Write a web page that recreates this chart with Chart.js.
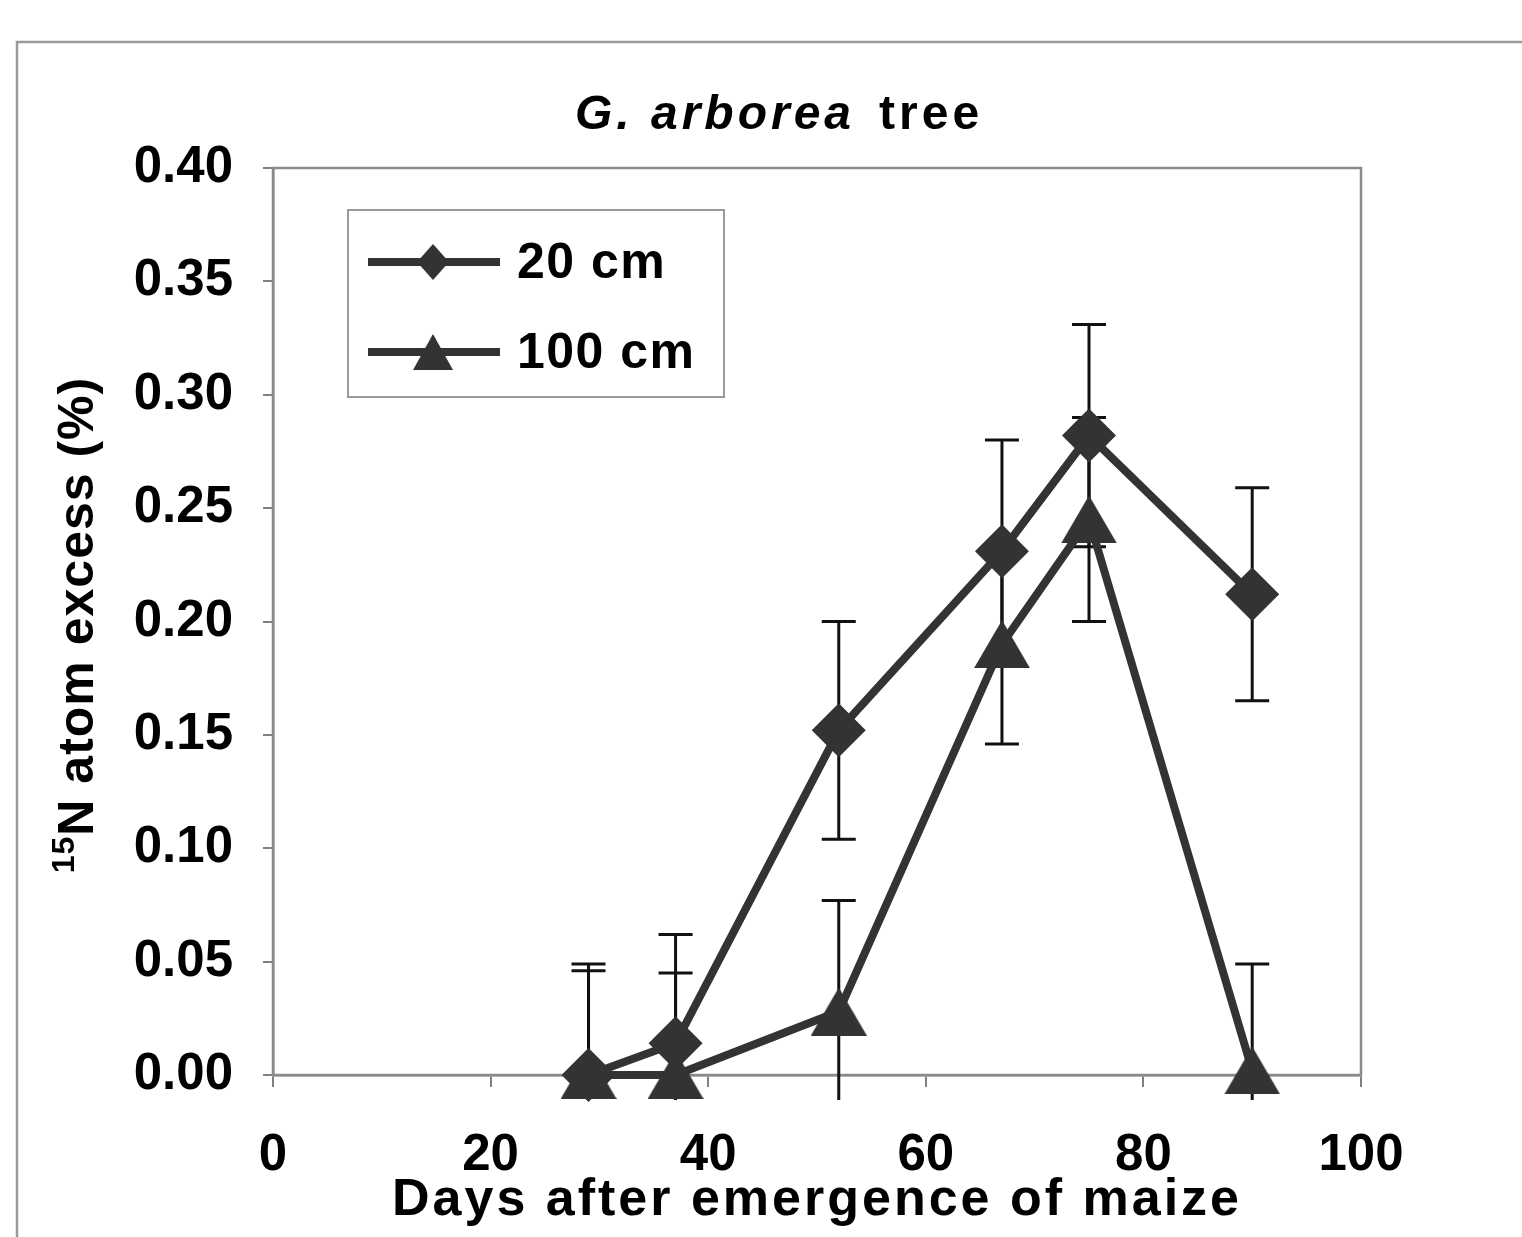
<!DOCTYPE html>
<html><head><meta charset="utf-8">
<script src="https://cdn.jsdelivr.net/npm/chart.js@4.4.1/dist/chart.umd.min.js"></script>
<style>html,body{margin:0;padding:0;background:#fff;overflow:hidden}#wrap{width:1522px;height:1237px;position:relative}</style>
</head><body><div id="wrap"><canvas id="c" width="1522" height="1237"></canvas></div>
<script>
// ---- data ----
const days = [29, 37, 52, 67, 75, 90];
const depth20 = [0, 0.014, 0.152, 0.231, 0.282, 0.212];
const err20 = [0.049, 0.048, 0.048, 0.049, 0.049, 0.047];
const depth100 = [0, 0, 0.028, 0.19, 0.245, 0.002];
const err100 = [0.046, 0.045, 0.049, 0.044, 0.045, 0.047];
const seriesLabels = ['20 cm', '100 cm'];
const xTicks = [0, 20, 40, 60, 80, 100];
const yTicks = [0, 0.05, 0.10, 0.15, 0.20, 0.25, 0.30, 0.35, 0.40];
const titleItalic = 'G. arborea';
const titlePlain = 'tree';
const xTitle = 'Days after emergence of maize';
const yTitleSup = '15';
const yTitleMain = 'N atom excess (%)';
const errFloor = -0.011;

const FONT = "'Liberation Sans', Arial, sans-serif";
const INK = '#333333';

function triCanvas(w, h) {
  const c = document.createElement('canvas');
  c.width = w; c.height = h;
  const g = c.getContext('2d');
  g.fillStyle = INK;
  g.beginPath(); g.moveTo(w / 2, 0); g.lineTo(w, h); g.lineTo(0, h); g.closePath(); g.fill();
  return c;
}
const triBig = triCanvas(56, 48);
const triSmall = triCanvas(40, 36);

const errors = [err20, err100];

const decor = {
  id: 'decor',
  beforeDraw(chart) {
    const ctx = chart.ctx;
    ctx.save();
    ctx.fillStyle = '#fff';
    ctx.fillRect(0, 0, chart.width, chart.height);
    ctx.strokeStyle = '#9a9a9a';
    ctx.lineWidth = 2.5;
    ctx.strokeRect(17, 42, chart.width + 20, chart.height + 20);
    ctx.restore();
  },
  beforeDatasetsDraw(chart) {
    const ctx = chart.ctx, a = chart.chartArea;
    const xs = chart.scales.x, ys = chart.scales.y;
    ctx.save();
    ctx.strokeStyle = '#8a8a8a';
    ctx.lineWidth = 2.5;
    ctx.strokeRect(a.left, a.top, a.right - a.left, a.bottom - a.top);
    // error bars
    ctx.strokeStyle = '#111';
    ctx.lineWidth = 3;
    chart.data.datasets.forEach((ds, di) => {
      const err = errors[di];
      ds.data.forEach((p, i) => {
        const x = xs.getPixelForValue(p.x);
        const yT = ys.getPixelForValue(p.y + err[i]);
        const yB = ys.getPixelForValue(Math.max(p.y - err[i], errFloor));
        ctx.beginPath();
        ctx.moveTo(x, yT); ctx.lineTo(x, yB);
        ctx.moveTo(x - 17, yT); ctx.lineTo(x + 17, yT);
        if (p.y - err[i] >= errFloor) { ctx.moveTo(x - 17, yB); ctx.lineTo(x + 17, yB); }
        ctx.stroke();
      });
    });
    ctx.restore();
  },
  afterDraw(chart) {
    const ctx = chart.ctx, a = chart.chartArea;
    ctx.save();
    ctx.fillStyle = '#000';
    ctx.textBaseline = 'alphabetic';
    ctx.textAlign = 'left';
    // chart title
    ctx.letterSpacing = '4px';
    ctx.font = `italic bold 48px ${FONT}`;
    const w1 = ctx.measureText(titleItalic).width;
    ctx.font = `bold 48px ${FONT}`;
    const w2 = ctx.measureText(titlePlain).width;
    const gap = 24;
    const tx = (a.left + a.right) / 2 - 38 - (w1 + gap + w2) / 2;
    ctx.font = `italic bold 48px ${FONT}`;
    ctx.fillText(titleItalic, tx, 129);
    ctx.font = `bold 48px ${FONT}`;
    ctx.fillText(titlePlain, tx + w1 + gap, 129);
    // x title
    ctx.letterSpacing = '3px';
    ctx.font = `bold 52px ${FONT}`;
    const wx = ctx.measureText(xTitle).width;
    ctx.fillText(xTitle, (a.left + a.right) / 2 - wx / 2, 1215);
    // y title
    ctx.translate(93, 625);
    ctx.rotate(-Math.PI / 2);
    ctx.letterSpacing = '1px';
    ctx.font = `bold 32px ${FONT}`;
    const ws = ctx.measureText(yTitleSup).width;
    ctx.font = `bold 50px ${FONT}`;
    const wm = ctx.measureText(yTitleMain).width;
    const sx = -(ws + wm) / 2;
    ctx.font = `bold 32px ${FONT}`;
    ctx.fillText(yTitleSup, sx, -19);
    ctx.font = `bold 50px ${FONT}`;
    ctx.fillText(yTitleMain, sx + ws, 0);
    ctx.setTransform(1, 0, 0, 1, 0, 0);
    // legend
    const bx = a.left + 75, by = a.top + 42, bw = 376, bh = 187;
    ctx.fillStyle = '#fff';
    ctx.fillRect(bx, by, bw, bh);
    ctx.strokeStyle = '#9a9a9a';
    ctx.lineWidth = 2;
    ctx.strokeRect(bx, by, bw, bh);
    chart.data.datasets.forEach((ds, i) => {
      const y = by + 52 + i * 90;
      ctx.strokeStyle = ds.borderColor;
      ctx.lineWidth = 8;
      ctx.beginPath(); ctx.moveTo(bx + 20, y); ctx.lineTo(bx + 152, y); ctx.stroke();
      const mx = bx + 85;
      ctx.fillStyle = INK;
      if (i === 0) {
        ctx.beginPath();
        ctx.moveTo(mx - 16, y); ctx.lineTo(mx, y - 18); ctx.lineTo(mx + 16, y); ctx.lineTo(mx, y + 18);
        ctx.closePath(); ctx.fill();
      } else {
        ctx.drawImage(triSmall, mx - 20, y - 18);
      }
      ctx.fillStyle = '#000';
      ctx.letterSpacing = '1.5px';
      ctx.font = `bold 50px ${FONT}`;
      ctx.textBaseline = 'middle';
      ctx.fillText(ds.label, bx + 169, y + 2);
    });
    ctx.restore();
  }
};

const mk = (xs, ys) => xs.map((d, i) => ({ x: d, y: ys[i] }));

new Chart(document.getElementById('c'), {
  type: 'line',
  data: {
    datasets: [
      { label: seriesLabels[0], data: mk(days, depth20), borderColor: INK, backgroundColor: INK,
        borderWidth: 8, pointStyle: 'rectRot', pointRadius: 27, pointBorderWidth: 0,
        pointBackgroundColor: INK, clip: false, tension: 0 },
      { label: seriesLabels[1], data: mk(days, depth100), borderColor: INK, backgroundColor: INK,
        borderWidth: 8, pointStyle: triBig, pointRadius: 28, clip: false, tension: 0 }
    ]
  },
  options: {
    responsive: false, animation: false, devicePixelRatio: 1,
    layout: { padding: { top: 168, right: 161, bottom: 0, left: 0 } },
    plugins: { legend: { display: false }, title: { display: false }, tooltip: { enabled: false } },
    scales: {
      x: {
        type: 'linear', min: 0, max: 100,
        afterBuildTicks: s => { s.ticks = xTicks.map(v => ({ value: v })); },
        afterFit: s => { s.height = 162; },
        grid: { drawOnChartArea: false, drawTicks: true, tickLength: 12, color: '#808080', lineWidth: 2 },
        border: { display: true, color: '#808080', width: 2.5 },
        ticks: { color: '#000', font: { family: FONT, size: 51, weight: 'bold' }, padding: 38, maxRotation: 0 }
      },
      y: {
        type: 'linear', min: 0, max: 0.4,
        afterBuildTicks: s => { s.ticks = yTicks.map(v => ({ value: v })); },
        afterFit: s => { s.width = 273; },
        grid: { drawOnChartArea: false, drawTicks: true, tickLength: 10, color: '#808080', lineWidth: 2 },
        border: { display: true, color: '#808080', width: 2.5 },
        ticks: { color: '#000', font: { family: FONT, size: 51, weight: 'bold' }, padding: 30,
          callback: v => Number(v).toFixed(2) }
      }
    }
  },
  plugins: [decor]
});
</script></body></html>
